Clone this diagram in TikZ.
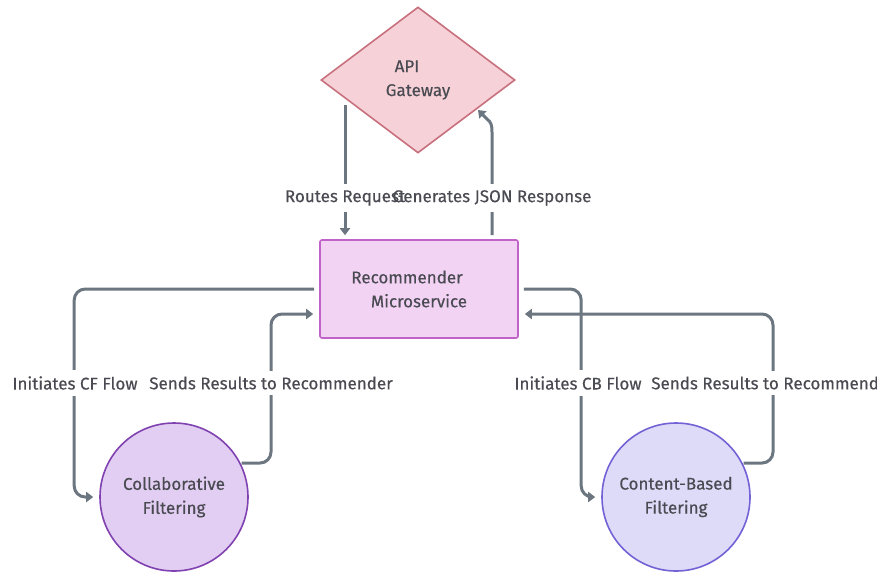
\documentclass[tikz,border=0pt]{standalone}
\usepackage{fontspec}
\setmainfont{Fira Sans}[FakeBold=0.35]
\usetikzlibrary{arrows.meta,shapes.geometric,calc}
\definecolor{linec}{HTML}{6B7680}
\definecolor{txtc}{HTML}{4A4A52}
\definecolor{gwfill}{HTML}{F6D2D8}
\definecolor{gwdraw}{HTML}{C8707E}
\definecolor{recfill}{HTML}{F3D3F3}
\definecolor{recdraw}{HTML}{C062C8}
\definecolor{cffill}{HTML}{E2CEF2}
\definecolor{cfdraw}{HTML}{8042B0}
\definecolor{cbfill}{HTML}{DDDBF8}
\definecolor{cbdraw}{HTML}{7262D6}
\tikzset{
  txt/.style={font=\fontsize{17}{24}\selectfont, text=txtc, align=center},
  gwshape/.style={txt, diamond, draw=gwdraw, fill=gwfill, line width=1.6pt, minimum width=194pt, minimum height=146pt, inner sep=0pt, shape aspect=1.33},
  recshape/.style={txt, rectangle, rounded corners=2pt, draw=recdraw, fill=recfill, line width=1.6pt, minimum width=198pt, minimum height=98pt, inner sep=0pt},
  cfshape/.style={txt, circle, draw=cfdraw, fill=cffill, line width=1.6pt, minimum size=148pt, inner sep=0pt},
  cbshape/.style={txt, circle, draw=cbdraw, fill=cbfill, line width=1.6pt, minimum size=148pt, inner sep=0pt},
  conn/.style={draw=linec, line width=3pt, rounded corners=11pt, -{Triangle[length=7pt,width=10pt]}},
  lblbg/.style={font=\fontsize{17}{18}\selectfont, fill=white, text opacity=0, inner xsep=1pt, inner ysep=6pt},
  lbl/.style={font=\fontsize{17}{18}\selectfont, text=txtc, inner sep=1pt},
}
\begin{document}
\begin{tikzpicture}[x=1pt,y=-1pt]
\useasboundingbox (0,0) rectangle (877,574);
\clip (0,0) rectangle (877,574);

\node[gwshape] (gw) at (418,80) {API\hspace*{22pt}\\Gateway};
\node[recshape] (rec) at (419,289) {Recommender\hspace*{24pt}\\Microservice};
\node[cfshape] (cf) at (174,497) {Collaborative\\Filtering};
\node[cbshape] (cb) at (676,497) {Content-Based\\Filtering};

% API gateway <-> recommender
\coordinate (rrs) at (345,105);
\draw[conn] (rrs) -- ([xshift=-74pt,yshift=4pt]rec.north);
\coordinate (gjt) at (478,110);
\draw[conn, rounded corners=0pt] ([xshift=73pt,yshift=4pt]rec.north) -- (492,132) .. controls (492,125) and (491,122) .. (487,119) -- (gjt);

% recommender -> CF
\draw[conn] ([xshift=-5pt]rec.west) -| ($(cf.west)+(-25pt,0)$) -- ([xshift=-6pt]cf.west);
% CF -> recommender
\draw[conn] ([xshift=1pt]cf.27) -| (271,314) -- ([xshift=-6pt,yshift=-25pt]rec.west);

% recommender -> CB
\draw[conn] ([xshift=5pt]rec.east) -| ($(cb.west)+(-20pt,0)$) -- ([xshift=-6pt]cb.west);
% CB -> recommender
\draw[conn] ([xshift=1pt]cb.27) -| (773,314) -- ([xshift=6pt,yshift=-25pt]rec.east);

% label backgrounds
\node[lblbg] (b1) at (345,198) {Routes Request};
\node[lblbg] (b2) at (492,198) {Generates JSON Response};
\node[lblbg] (b3) at (75,383) {Initiates CF Flow};
\node[lblbg] (b4) at (271,383) {Sends Results to Recommender};
\node[lblbg] (b5) at (578,383) {Initiates CB Flow};
\node[lblbg] (b6) at (773,383) {Sends Results to Recommender};
% label texts
\node[lbl] (l1) at (345,198) {Routes Request};
\node[lbl] (l2) at (492,198) {Generates JSON Response};
\node[lbl] (l3) at (75,383) {Initiates CF Flow};
\node[lbl] (l4) at (271,383) {Sends Results to Recommender};
\node[lbl] (l5) at (578,383) {Initiates CB Flow};
\node[lbl] (l6) at (773,383) {Sends Results to Recommender};
\end{tikzpicture}
\end{document}
